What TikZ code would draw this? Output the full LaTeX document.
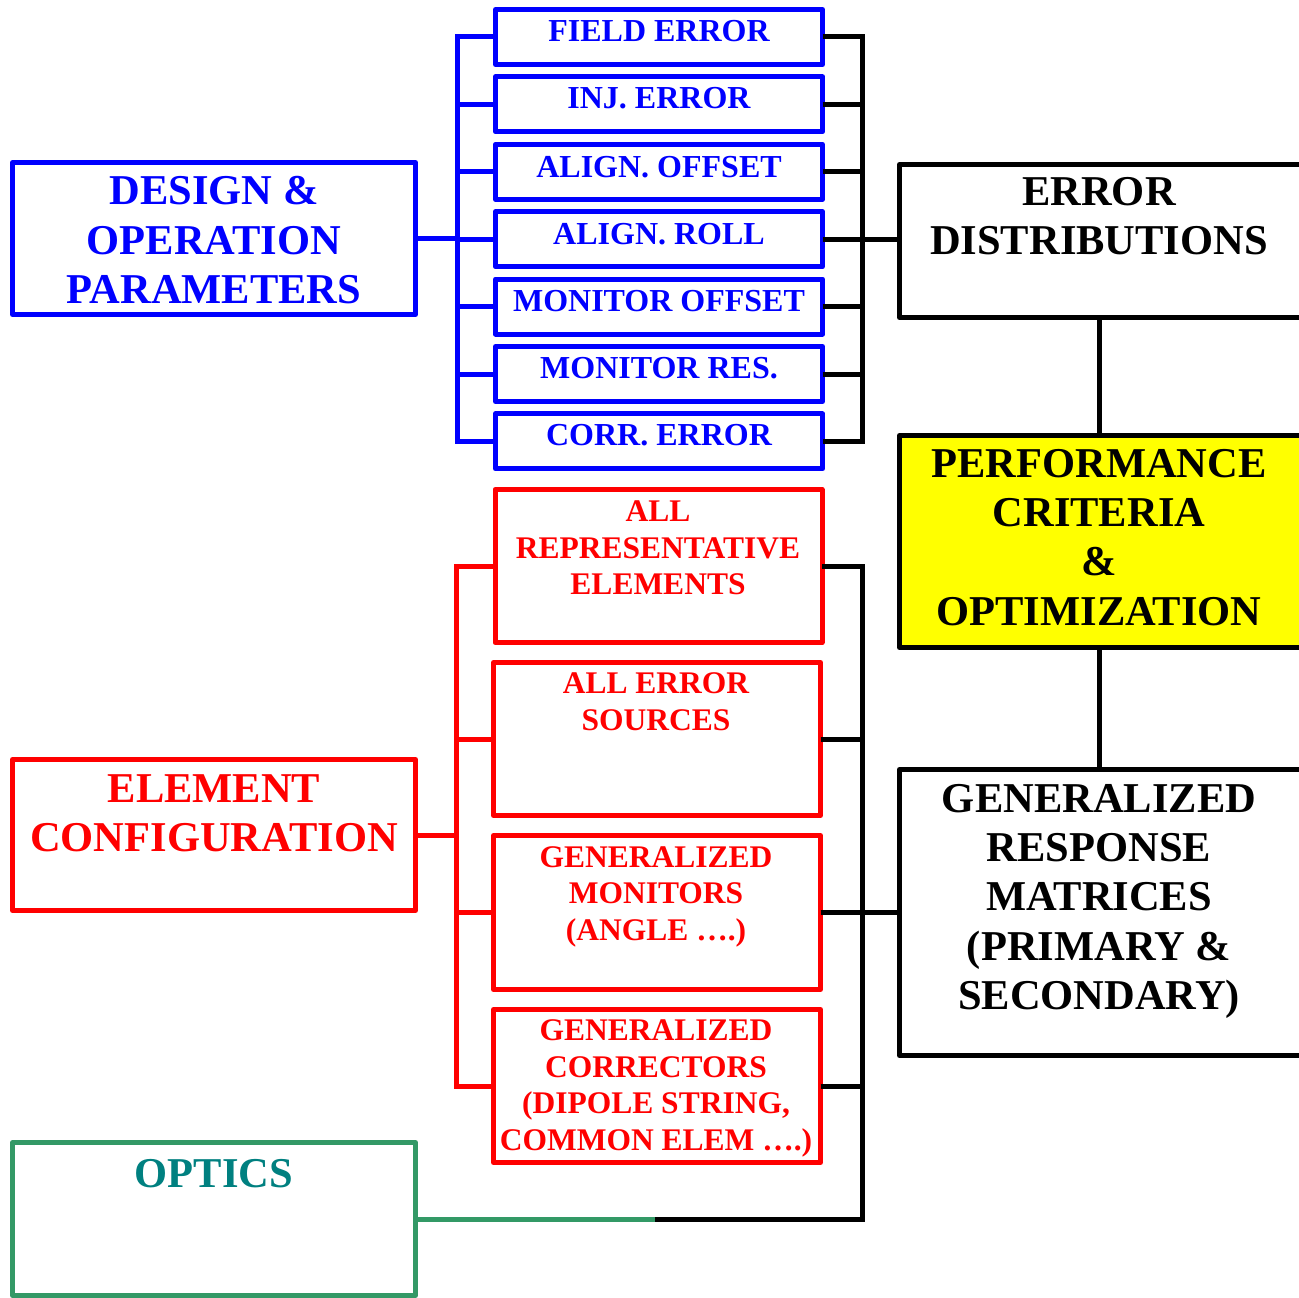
\documentclass[tikz,border=0pt]{standalone}
\usepackage{fontspec}
\setmainfont{Liberation Serif}
\definecolor{pblue}{RGB}{0,0,255}
\definecolor{pred}{RGB}{255,0,0}
\definecolor{pyellow}{RGB}{255,255,0}
\definecolor{pteal}{RGB}{0,128,128}
\definecolor{pgreen}{RGB}{51,153,102}
\begin{document}
\begin{tikzpicture}[x=1pt,y=-1pt,
  boxbase/.style={draw, line width=5pt, inner sep=0pt, outer sep=0pt, rectangle, line join=round},
  bluebox/.style={boxbase, draw=pblue, minimum width=327pt, minimum height=55pt},
  redbox/.style={boxbase, draw=pred, minimum width=327pt, minimum height=153pt},
  bigbox/.style={boxbase, minimum width=403pt, minimum height=152pt},
  rightbox/.style={boxbase, draw=black, minimum width=403.5pt},
  smalltxt/.style={inner sep=0pt, align=center, font=\fontsize{32}{37}\selectfont\bfseries},
  redtxt/.style={inner sep=0pt, align=center, text=pred, font=\fontsize{31.5}{36.7}\selectfont\bfseries},
  bigtxt/.style={inner sep=0pt, align=center, font=\fontsize{42.5}{49.3}\selectfont\bfseries},
  bline/.style={line width=5pt, draw=pblue},
  rline/.style={line width=5pt, draw=pred},
  kline/.style={line width=5pt, draw=black},
  gline/.style={line width=5pt, draw=pgreen}]
\useasboundingbox (0,0) rectangle (1299,1298);

% blue parameter boxes
\node[bluebox] (f1) at (659,37) {};
\node[bluebox] (f2) at (659,104.4) {};
\node[bluebox] (f3) at (659,171.8) {};
\node[bluebox] (f4) at (659,239.2) {};
\node[bluebox] (f5) at (659,306.6) {};
\node[bluebox] (f6) at (659,374) {};
\node[bluebox] (f7) at (659,441.4) {};
\node[smalltxt, text=pblue, anchor=base] (f1t) at (659,42) {FIELD ERROR};
\node[smalltxt, text=pblue, anchor=base] (f2t) at (659,109) {INJ. ERROR};
\node[smalltxt, text=pblue, anchor=base] (f3t) at (659,177) {ALIGN. OFFSET};
\node[smalltxt, text=pblue, anchor=base] (f4t) at (659,244) {ALIGN. ROLL};
\node[smalltxt, text=pblue, anchor=base] (f5t) at (659,311) {MONITOR OFFSET};
\node[smalltxt, text=pblue, anchor=base] (f6t) at (659,378.5) {MONITOR RES.};
\node[smalltxt, text=pblue, anchor=base] (f7t) at (659,445.5) {CORR. ERROR};

% design box
\node[bigbox, draw=pblue] (design) at (214,238.5) {};
\node[bigtxt, text=pblue, anchor=north] (designt) at (214,176.5) {DESIGN \&\\OPERATION\\PARAMETERS};

% red boxes
\node[redbox] (ra) at (658.5,566) {};
\node[redbox] (rb) at (657,739) {};
\node[redbox, minimum height=154pt] (rc) at (657,912.5) {};
\node[redbox] (rd) at (657,1086) {};
\node[redtxt, anchor=north] (rat) at (658,500.5) {ALL\\REPRESENTATIVE\\ELEMENTS};
\node[redtxt, anchor=north] (rbt) at (656,672.5) {ALL ERROR\\SOURCES};
\node[redtxt, anchor=north] (rct) at (656,846) {GENERALIZED\\MONITORS\\(ANGLE ….)};
\node[redtxt, anchor=north] (rdt) at (656,1019.5) {GENERALIZED\\CORRECTORS\\(DIPOLE STRING,\\COMMON ELEM ….)};

% element configuration
\node[bigbox, draw=pred, minimum height=151pt] (elem) at (214,835) {};
\node[bigtxt, text=pred, anchor=north] (elemt) at (214,774) {ELEMENT\\CONFIGURATION};

% optics
\node[bigbox, draw=pgreen, minimum height=153pt] (optics) at (214,1219) {};
\node[bigtxt, text=pteal, anchor=base] (opticst) at (214,1187) {OPTICS};

% right column
\node[rightbox, minimum height=153pt] (errd) at (1101.25,241) {};
\node[bigtxt, anchor=north] (errdt) at (1099,177) {ERROR\\DISTRIBUTIONS};
\node[rightbox, fill=pyellow, minimum height=212pt] (perf) at (1101.25,541.5) {};
\node[bigtxt, anchor=north] (perft) at (1099,449) {PERFORMANCE\\CRITERIA\\\&\\OPTIMIZATION};
\node[rightbox, minimum height=286pt] (gen) at (1101.25,912.5) {};
\node[bigtxt, anchor=north] (gent) at (1099,784) {GENERALIZED\\RESPONSE\\MATRICES\\(PRIMARY \&\\SECONDARY)};

% bus coordinates
\coordinate (bx) at (457.5,0);
\coordinate (kx) at (862.5,0);
\coordinate (rx) at (456,0);
\coordinate (gmid) at (655,1219);

% blue bus
\draw[bline] (f1.west) -- (f1.west -| bx) -- (f7.west -| bx) -- (f7.west);
\foreach \n in {f2,f3,f4,f5,f6} \draw[bline] (\n.west) -- (\n.west -| bx);
\draw[bline] (design.east) -- (design.east -| bx);

% black bus (top)
\draw[kline] (f1.east) -- (f1.east -| kx) -- (f7.east -| kx) -- (f7.east);
\foreach \n in {f2,f3,f4,f5,f6} \draw[kline] (\n.east) -- (\n.east -| kx);
\draw[kline] (errd.west |- f4.east) -- (f4.east -| kx);

% red bus
\draw[rline] (ra.west) -- (ra.west -| rx) -- (rd.west -| rx) -- (rd.west);
\foreach \n in {rb,rc} \draw[rline] (\n.west) -- (\n.west -| rx);
\draw[rline] (elem.east) -- (elem.east -| rx);

% black bus (bottom)
\draw[kline] (ra.east) -- (ra.east -| kx) -- (gmid -| kx) -- (gmid);
\foreach \n in {rb,rc,rd} \draw[kline] (\n.east) -- (\n.east -| kx);
\draw[kline] (gen.west |- rc.east) -- (rc.east -| kx);
\draw[gline] (optics.east) -- (gmid);

% vertical links on the right
\draw[kline] (errd.south -| errdt.south) -- (perf.north -| errdt.south);
\draw[kline] (perf.south -| errdt.south) -- (gen.north -| errdt.south);
\end{tikzpicture}
\end{document}
